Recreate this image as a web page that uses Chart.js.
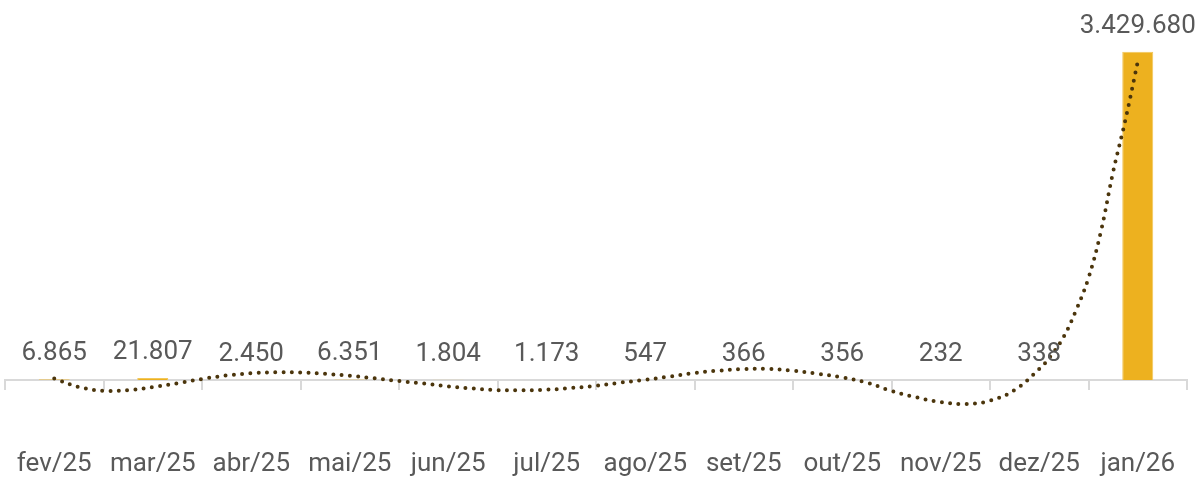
<!DOCTYPE html>
<html>
<head>
<meta charset="utf-8">
<script src="https://cdn.jsdelivr.net/npm/chart.js@4"></script>
<style>
  body{margin:0;background:#fff;}
  #wrap{width:1204px;height:477px;}
</style>
</head>
<body>
<div id="wrap"><canvas id="chart" width="1204" height="477"></canvas></div>
<script>
var months=['fev/25','mar/25','abr/25','mai/25','jun/25','jul/25','ago/25','set/25','out/25','nov/25','dez/25','jan/26'];
var totals=[6865,21807,2450,6351,1804,1173,547,366,356,232,338,3429680];

// trend line (position in category units, value)
var trendX=[0,0.25,0.5,0.75,1,1.25,1.5,1.75,2,2.25,2.5,2.75,3,3.25,3.5,3.75,4,4.25,4.5,4.75,5,5.25,5.5,5.75,6,6.25,6.5,6.75,7,7.25,7.5,7.75,8,8.25,8.5,8.75,9,9.25,9.5,9.75,10,10.125,10.25,10.375,10.5,10.625,10.75,10.875,11];
var trendY=[15700,-73200,-112900,-106700,-75300,-33500,10500,47100,70100,80500,79500,64800,43900,17800,-10500,-36600,-65900,-88900,-105600,-107700,-101400,-83600,-60600,-27200,2100,36600,73200,98300,115000,115000,96200,64800,27200,-27200,-115000,-180900,-230000,-250900,-216400,-104600,115000,261400,454800,731900,1066500,1547500,2174800,2718600,3325000];

function fmt(n){
  return String(n).replace(/\B(?=(\d{3})+(?!\d))/g,'.');
}

var valueLabels={
  id:'valueLabels',
  afterDatasetsDraw:function(chart){
    var ctx=chart.ctx;
    var meta=chart.getDatasetMeta(0);
    ctx.save();
    ctx.font='26px Roboto';
    ctx.fillStyle='#595959';
    ctx.textAlign='center';
    ctx.textBaseline='middle';
    meta.data.forEach(function(bar,i){
      ctx.fillText(fmt(totals[i]),bar.x,bar.y-25.5);
    });
    ctx.restore();
  }
};

var trend=trendX.map(function(x,i){return {x:x,y:trendY[i]};});

new Chart(document.getElementById('chart'),{
  type:'bar',
  data:{
    labels:months,
    datasets:[{
      data:totals,
      backgroundColor:'#EDB11F',
      borderColor:'#F2C75A',
      borderWidth:1,
      grouped:false,
      barPercentage:0.315,
      categoryPercentage:1,
      order:2
    },{
      type:'line',
      data:trend,
      xAxisID:'xt',
      borderColor:'#4b350c',
      borderWidth:4,
      borderDash:[0,8.3],
      borderCapStyle:'round',
      pointRadius:0,
      tension:0.4,
      fill:false,
      clip:false,
      order:1
    }]
  },
  options:{
    responsive:false,
    animation:false,
    layout:{padding:{left:5,right:17,top:0,bottom:0}},
    plugins:{legend:{display:false},tooltip:{enabled:false}},
    scales:{
      x:{
        grid:{drawOnChartArea:false,color:'#d9d9d9',tickLength:10,lineWidth:2},
        border:{color:'#d9d9d9',width:2},
        ticks:{color:'#595959',font:{family:'Roboto',size:26},padding:59,maxRotation:0,autoSkip:false},
        afterFit:function(scale){
          scale.height=97;
          scale.paddingLeft=0;
          scale.paddingRight=0;
        }
      },
      xt:{type:'linear',display:false,offset:false,min:-0.5,max:11.5,
        afterFit:function(scale){scale.paddingLeft=0;scale.paddingRight=0;}},
      y:{display:false,min:0,max:3970000}
    }
  },
  plugins:[valueLabels]
});
</script>
</body>
</html>
